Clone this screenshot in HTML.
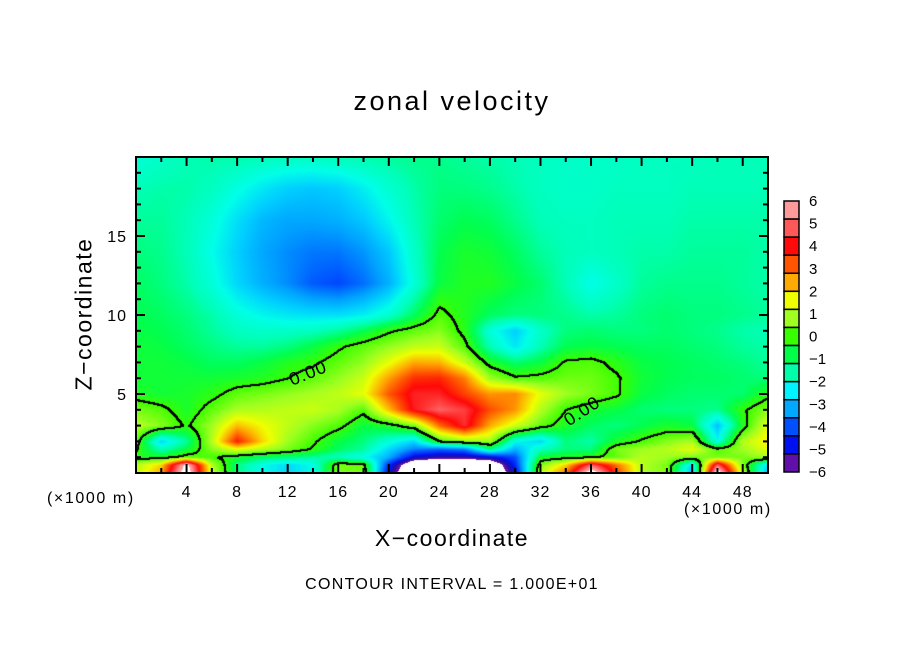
<!DOCTYPE html>
<html><head><meta charset="utf-8">
<style>
html,body{margin:0;padding:0;background:#fff;}
#wrap{position:relative;width:904px;height:654px;overflow:hidden;font-family:"Liberation Sans",sans-serif;color:#000;}
.t{position:absolute;white-space:nowrap;}
</style></head>
<body>
<div id="wrap">
<div class="t" style="left:0;width:904px;top:86px;text-align:center;font-size:27px;letter-spacing:2.5px;">zonal velocity</div>
<div class="t" style="left:84px;top:314px;font-size:23px;letter-spacing:1.5px;transform:translate(-50%,-50%) rotate(-90deg);">Z−coordinate</div>
<div class="t" style="left:0;width:904px;top:525px;text-align:center;font-size:23px;letter-spacing:1.5px;">X−coordinate</div>
<div class="t" style="left:47px;top:490px;font-size:16px;letter-spacing:1.6px;">(×1000 m)</div>
<div class="t" style="left:684px;top:501px;font-size:16px;letter-spacing:1.6px;">(×1000 m)</div>
<div class="t" style="left:0;width:904px;top:576px;text-align:center;font-size:16px;letter-spacing:1.3px;">CONTOUR INTERVAL = 1.000E+01</div>
<canvas id="field" width="632" height="316" style="position:absolute;left:136px;top:157px;"></canvas>
<svg id="ov" width="904" height="654" style="position:absolute;left:0;top:0;"></svg>
</div>
<script>
const xs = [0,2,4,6,8,10,12,14,16,18,20,22,24,26,28,30,32,34,36,38,40,42,44,46,48,50];
const zs = [20,18,16,14,12,10,9,8,7,6,5,4,3,2,1.5,1,0.5,0];
const row20 = [-1.8,-1.6,-1.4,-1.3,-1.3,-1.4,-1.5,-1.5,-1.4,-1.3,-1.2,-1.1,-1.1,-1.2,-1.3,-1.4,-1.5,-1.6,-1.6,-1.6,-1.5,-1.5,-1.5,-1.4,-1.4,-1.4];
const row18 = [-1.4,-1.3,-1.3,-1.5,-1.9,-2.3,-2.6,-2.7,-2.6,-2.2,-1.7,-1.3,-1.0,-1.0,-1.1,-1.3,-1.5,-1.6,-1.6,-1.5,-1.5,-1.5,-1.4,-1.4,-1.4,-1.4];
const row16 = [-1.2,-1.2,-1.4,-1.8,-2.4,-2.9,-3.1,-3.1,-3.0,-2.7,-2.1,-1.4,-0.9,-0.7,-0.8,-1.1,-1.4,-1.5,-1.5,-1.4,-1.4,-1.4,-1.3,-1.3,-1.3,-1.3];
const row14 = [-1.0,-1.1,-1.4,-2.0,-2.6,-3.1,-3.4,-3.6,-3.6,-3.3,-2.7,-1.6,-0.7,-0.4,-0.5,-0.8,-1.2,-1.4,-1.5,-1.4,-1.3,-1.3,-1.2,-1.2,-1.2,-1.3];
const row12 = [-0.8,-1.0,-1.3,-1.8,-2.5,-3.0,-3.4,-3.9,-4.1,-3.7,-3.0,-1.8,-0.6,-0.3,-0.3,-0.6,-0.9,-1.4,-2.0,-1.6,-1.2,-1.1,-1.1,-1.1,-1.2,-1.3];
const row10 = [-0.7,-0.8,-1.0,-1.3,-1.8,-2.1,-2.3,-2.4,-2.4,-2.2,-1.7,-0.8,0.2,-0.3,-0.8,-1.0,-1.0,-1.1,-1.3,-1.2,-1.0,-0.9,-1.0,-1.0,-1.1,-1.2];
const row9 = [-0.6,-0.7,-0.9,-1.2,-1.5,-1.6,-1.6,-1.5,-1.2,-0.7,-0.1,0.3,0.6,-0.2,-1.8,-2.6,-1.6,-1.0,-0.9,-1.0,-1.0,-0.9,-1.0,-1.1,-1.3,-1.4];
const row8 = [-0.5,-0.6,-0.8,-1.0,-1.2,-1.2,-1.0,-0.6,-0.1,0.3,0.7,1.1,1.2,0.2,-1.4,-2.3,-1.4,-0.7,-0.6,-0.7,-0.8,-0.8,-0.9,-1.0,-1.2,-1.3];
const row7 = [-0.5,-0.5,-0.6,-0.8,-0.8,-0.6,-0.3,-0.1,0.3,0.7,1.5,2.4,2.3,1.2,-0.3,-0.9,-0.6,0.1,0.2,-0.2,-0.6,-0.7,-0.8,-0.9,-1.0,-1.2];
const row6 = [-0.5,-0.5,-0.5,-0.5,-0.4,-0.3,0.0,0.3,0.7,1.2,2.5,3.6,3.7,2.8,0.8,0.1,0.2,0.4,0.4,0.1,-0.5,-0.7,-0.8,-0.8,-0.9,-1.0];
const row5 = [-0.3,-0.5,-0.4,-0.2,0.3,0.5,0.7,0.9,1.1,1.5,3.2,4.3,4.3,3.4,2.6,2.7,1.5,0.8,0.5,0.1,-0.6,-0.8,-0.9,-0.9,-0.9,-0.2];
const row4 = [0.5,0.2,-0.4,0.3,0.9,1.0,1.1,1.2,0.9,0.2,2.2,4.2,5.0,4.6,3.3,2.6,1.0,0.0,-0.4,-0.6,-0.9,-1.0,-1.0,-1.1,-0.1,0.6];
const row3 = [1.0,0.6,-0.1,0.8,2.2,1.6,1.1,0.6,0.2,-0.6,-0.3,0.5,3.0,4.4,2.4,1.3,0.3,-0.4,-0.8,-1.0,-0.7,-0.4,-0.6,-2.8,-0.3,1.5];
const row2 = [0.3,-2.5,-1.2,1.0,3.8,2.0,0.8,0.1,-0.6,-1.0,-1.8,-2.5,0.0,0.6,0.8,-2.0,-2.5,-1.0,-1.3,-0.4,0.1,0.6,0.9,-2.0,1.0,1.8];
const row1h = [0.1,-1.5,-0.6,0.6,1.5,1.0,0.5,-0.1,-0.8,-1.2,-2.5,-3.5,-3.8,-3.5,-1.0,-3.0,-1.5,-1.0,-1.0,0.5,0.8,1.0,1.5,0.2,0.8,1.5];
const row1 = [-0.3,-0.3,0.3,0.1,-0.4,-0.8,-1.0,-1.2,-1.5,-2.0,-3.0,-5.0,-5.5,-5.5,-5.0,-4.0,-0.5,-0.3,-0.1,0.3,1.0,0.8,0.5,0.5,0.5,0.8];
const row0h = [1.0,2.0,6.5,1.0,-1.0,-2.0,-2.5,-2.0,0.5,0.3,-4.5,-7.5,-8,-8,-7.5,-4.5,0.5,2.0,5.0,3.0,1.0,0.5,-2.5,5.0,0.5,-2.5];
const row0 = [1.0,2.5,7,1.2,-1.0,-2.0,-2.5,-2.0,0.5,0.5,-5,-8,-8.5,-8.5,-8,-5,1.0,3.0,7,3.5,1.0,0.5,-3,7,1.0,-3];
const grid = [row20,row18,row16,row14,row12,row10,row9,row8,row7,row6,row5,row4,row3,row2,row1h,row1,row0h,row0];
const xTicks = [4,8,12,16,20,24,28,32,36,40,44,48];
const zTicks = [5,10,15];
const barLevels = [6,5,4,3,2,1,0,-1,-2,-3,-4,-5,-6];
const barColors = ['#ff9a9a','#ff5858','#ff0a0a','#ff5500','#ffaa00','#f0ff00','#a0ff20','#38ff00','#00ff48','#00ffa8','#00f4ff','#00a8ff','#0050ff','#0010f0','#6010a8'];

const PL=136, PR=768, PT=157, PB=473, X0=0, X1=50, Z0=0, Z1=20;
function xScale(x){return PL+(x-X0)*(PR-PL)/(X1-X0);}
function zScale(z){return PB-(z-Z0)*(PB-PT)/(Z1-Z0);}

const stopV=[5.6,4.8,4.0,3.2,2.4,1.6,0.8,0.0,-0.7,-1.4,-2.0,-2.6,-3.2,-4.0,-4.8,-5.4,-5.9];
const stopC=[[255,154,154],[255,80,80],[255,8,8],[255,85,0],[255,170,0],[240,255,0],[160,255,32],[56,255,0],[0,255,80],[0,255,184],[0,255,232],[0,208,255],[0,160,255],[0,80,255],[0,16,240],[32,16,160],[106,16,168]];
function color(v){
  if(v>6||v<-6) return [255,255,255];
  if(v>=stopV[0]) return stopC[0];
  if(v<=stopV[stopV.length-1]) return stopC[stopC.length-1];
  for(let i=0;i<stopV.length-1;i++){
    if(v<=stopV[i]&&v>=stopV[i+1]){
      const t=(stopV[i]-v)/(stopV[i]-stopV[i+1]);
      const a=stopC[i],b=stopC[i+1];
      return [a[0]+(b[0]-a[0])*t,a[1]+(b[1]-a[1])*t,a[2]+(b[2]-a[2])*t];
    }
  }
  return [255,255,255];
}
function sample(x,z){
  let i=Math.floor((x-xs[0])/(xs[1]-xs[0])); if(i<0)i=0; if(i>xs.length-2)i=xs.length-2;
  const tx=Math.min(1,Math.max(0,(x-xs[i])/(xs[i+1]-xs[i])));
  let j=0; while(j<zs.length-2 && z<zs[j+1]) j++;
  const tz=Math.min(1,Math.max(0,(zs[j]-z)/(zs[j]-zs[j+1])));
  const a=grid[j][i],b=grid[j][i+1],c=grid[j+1][i],d=grid[j+1][i+1];
  return (a*(1-tx)+b*tx)*(1-tz)+(c*(1-tx)+d*tx)*tz;
}
(function(){
  const cv=document.getElementById('field'); const ctx=cv.getContext('2d');
  const W=cv.width,H=cv.height; const img=ctx.createImageData(W,H);
  const vals=new Float32Array(W*H);
  for(let py=0;py<H;py++){
    const z=Z1-(py+0.5)*(Z1-Z0)/H;
    for(let px=0;px<W;px++){
      const x=X0+(px+0.5)*(X1-X0)/W;
      vals[py*W+px]=sample(x,z);
    }
  }
  for(let k=0;k<W*H;k++){const c=color(vals[k]);img.data[k*4]=c[0];img.data[k*4+1]=c[1];img.data[k*4+2]=c[2];img.data[k*4+3]=255;}
  for(let py=0;py<H-1;py++)for(let px=0;px<W-1;px++){
    const v=vals[py*W+px],r=vals[py*W+px+1],d=vals[(py+1)*W+px];
    if((v>=0)!==(r>=0)||(v>=0)!==(d>=0)){
      if(Math.abs(v)>=6) continue;
      for(const o of [0,1,W,W+1]){const k=py*W+px+o;img.data[k*4]=0;img.data[k*4+1]=0;img.data[k*4+2]=0;}
    }
  }
  ctx.putImageData(img,0,0);
})();
(function(){
  const ns='http://www.w3.org/2000/svg', svg=document.getElementById('ov');
  function mk(tag,attrs){const e=document.createElementNS(ns,tag);for(const k in attrs)e.setAttribute(k,attrs[k]);svg.appendChild(e);return e;}
  let l1=mk('text',{x:308,y:379,'font-size':18,'font-family':'Liberation Sans, sans-serif','text-anchor':'middle','letter-spacing':1,transform:'rotate(-22 308 373)'});
  
  
  l1.textContent='0.00';
  let l2=mk('text',{x:582,y:417,'font-size':18,'font-family':'Liberation Sans, sans-serif','text-anchor':'middle','letter-spacing':1,transform:'rotate(-33 582 411)'});
  
  
  l2.textContent='0.00';
  let fr=mk('rect',{x:PL,y:PT,width:PR-PL,height:PB-PT,fill:'none',stroke:'#000','stroke-width':2});
  
  
  for(let v=2;v<50;v+=2){
    const X=xScale(v), L=(v%4===0)?9:5;
    mk('line',{x1:X,y1:PB,x2:X,y2:PB-L,stroke:'#000','stroke-width':2});
    mk('line',{x1:X,y1:PT,x2:X,y2:PT+L,stroke:'#000','stroke-width':2});
  }
  xTicks.forEach(v=>{
    const t=mk('text',{x:xScale(v),y:497,'font-size':16,'font-family':'Liberation Sans, sans-serif','text-anchor':'middle','letter-spacing':1});
    
    
    t.textContent=String(v);
  });
  for(let v=1;v<20;v++){
    const Y=zScale(v), L=(v%5===0)?9:5;
    mk('line',{x1:PL,y1:Y,x2:PL+L,y2:Y,stroke:'#000','stroke-width':2});
    mk('line',{x1:PR,y1:Y,x2:PR-L,y2:Y,stroke:'#000','stroke-width':2});
  }
  zTicks.forEach(v=>{
    const t=mk('text',{x:127,y:zScale(v)+6,'font-size':16,'font-family':'Liberation Sans, sans-serif','text-anchor':'end','letter-spacing':1});
    
    
    t.textContent=String(v);
  });
  const BT=201,BB=472,BX=784,BW=15,n=barColors.length,bh=(BB-BT)/n;
  barColors.forEach((c,i)=>{
    const r=mk('rect',{x:BX,y:BT+i*bh,width:BW,height:bh,fill:c,stroke:'#000','stroke-width':1.5});
    
    
  });
  barLevels.forEach((v,i)=>{
    const y=BT+i*(BB-BT)/(barLevels.length-1);
    const t=mk('text',{x:809,y:y+5,'font-size':15,'font-family':'Liberation Sans, sans-serif'});
    
    
    t.textContent=(v<0?'−':'')+Math.abs(v);
  });
})();
</script>
</body></html>
